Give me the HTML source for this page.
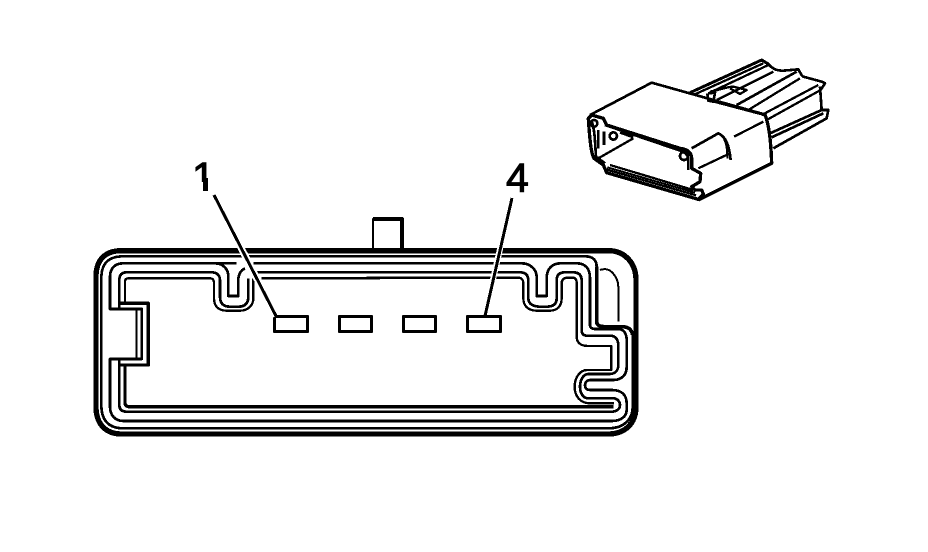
<!DOCTYPE html>
<html>
<head>
<meta charset="utf-8">
<style>
html,body{margin:0;padding:0;background:#fff;width:928px;height:552px;overflow:hidden}
svg{display:block}
text{font-family:"Liberation Sans",sans-serif;font-size:41px;fill:#000;stroke:#000;stroke-width:1}
path,rect,line,circle{fill:none;stroke:#000;stroke-linejoin:round;shape-rendering:crispEdges}
</style>
</head>
<body>
<svg width="928" height="552" viewBox="0 0 928 552" xmlns="http://www.w3.org/2000/svg">
<!-- top tab -->
<path d="M373 250V219H402V250" stroke-width="2"/>
<path d="M373 219H402V250" stroke-width="4"/>

<g transform="translate(80,210) scale(.33333)">
  <!-- outer body left -->
  <path d="M900 122H125C75 122 48 150 48 200V590C48 640 75 672 125 672H900" stroke-width="16"/>
  <path d="M900 139H130C85 139 64 160 64 205V585C64 630 85 655 130 655H900" stroke-width="8"/>
  <!-- channel A -->
  <path d="M470 160H130C105 160 90 175 90 200V297H185V447H90V590C90 615 105 633 130 633H900" stroke-width="8"/>
  <path d="M470 160H405C430 160 445 178 445 200V258H475V210C475 190 485 180 495 175" stroke-width="8"/>
  <path d="M520 160H900" stroke-width="8"/>
  <path d="M170 297V447" stroke-width="6"/>
  <!-- channel B -->
  <path d="M118 297V210C118 195 125 187 140 187H395C412 187 420 197 420 212V260C420 280 430 290 450 290H475C495 290 505 280 505 260V205" stroke-width="8"/>
  <path d="M530 187H900" stroke-width="8"/>
  <path d="M118 447V585C118 598 125 605 140 605H900" stroke-width="8"/>
  <!-- channel C / notch -->
  <path d="M135 280V215C135 208 138 205 145 205H390C398 205 402 210 402 218V265C402 288 415 302 440 302H480C505 302 520 285 520 265V205" stroke-width="7"/>
  <path d="M545 205H900" stroke-width="7"/>
  <path d="M118 280H205V465H118" stroke-width="10"/>
  <path d="M135 465V578C135 586 140 590 148 590H900" stroke-width="10"/>
</g>

<g transform="translate(370,210) scale(.33333)">
  <!-- outer body right -->
  <path d="M-10 122H715C765 122 798 160 798 210V590C798 640 765 672 715 672H0" stroke-width="16"/>
  <path d="M-10 139H645C668 139 680 150 680 170V335C680 345 690 350 705 350H755C775 350 785 358 788 375V590C788 630 760 655 715 655H-10" stroke-width="8"/>
  <path d="M680 170V335C680 345 690 350 705 350H755C775 350 785 358 788 375" stroke-width="11"/>
  <path d="M690 180C700 176 715 176 725 186C740 200 745 215 745 232V335" stroke-width="6"/>
  <!-- channel A -->
  <path d="M-10 160H455C480 160 500 178 500 200V258H530V205C530 178 545 160 572 160H620C648 160 660 178 660 205V345C660 352 665 357 675 357H745C762 357 770 372 770 390V470C770 495 755 510 730 510H662C650 510 645 518 645 525C645 535 650 540 662 540H725C755 540 770 555 770 580V600C770 620 752 633 725 633H-10" stroke-width="8"/>
  <!-- channel B -->
  <path d="M-10 187H450C468 187 475 197 475 212V265C475 282 490 290 510 290H530C550 290 560 282 560 265V210C560 195 568 187 585 187H610C628 187 635 197 635 212V360C635 372 640 377 652 377H720C738 377 745 390 745 408V465C745 482 735 492 718 492H655C640 492 630 510 630 530C630 550 640 565 655 565H730C742 565 750 575 750 585C750 598 738 605 725 605H-10" stroke-width="8"/>
  <!-- channel C -->
  <path d="M-10 203H445C455 203 460 210 460 220V265C460 288 475 302 500 302H540C562 302 575 288 575 265V220C575 208 582 203 595 203H608C616 203 620 208 620 218V380C620 398 632 408 655 408H724V480H652C628 480 614 505 614 530C614 558 630 580 660 580H732" stroke-width="7"/>
  <path d="M-10 590H730" stroke-width="10"/>
</g>

<!-- pins -->
<rect x="274.500" y="316.500" width="33" height="15" stroke-width="3"/>
<rect x="339.500" y="316.500" width="32" height="15" stroke-width="3"/>
<rect x="403.500" y="316.500" width="32" height="15" stroke-width="3"/>
<rect x="467.500" y="316.500" width="33" height="15" stroke-width="3"/>

<!-- leaders -->
<line x1="214" y1="195" x2="276" y2="316" style="stroke:#fff" stroke-width="7"/>
<line x1="512" y1="197" x2="485" y2="314" style="stroke:#fff" stroke-width="6"/>
<line x1="214" y1="195" x2="276" y2="316" stroke-width="3"/>
<line x1="512" y1="198" x2="485" y2="316" stroke-width="3"/>

<text x="192" y="191">1</text>
<rect x="190" y="182" width="26" height="11" style="fill:#fff;stroke:none"/>
<rect x="203" y="178" width="5" height="13" style="fill:#000;stroke:none"/>
<text x="506" y="192">4</text>

<!-- connector -->
<g transform="translate(570,50) scale(.33333)" stroke-width="7">
  <path d="M60 195L245 98L590 195" stroke-width="8"/>
  <path d="M585 195C598 225 603 280 605 340L385 450" stroke-width="10"/>
  <path d="M55 205L65 195L100 205L110 225L330 295C355 298 365 310 365 325V355L392 370L390 395L365 410L375 420H395L400 432L385 448L110 368L100 345L72 325C62 310 58 250 55 205Z" stroke-width="10"/>
  <path d="M65 215C75 240 75 280 78 320L105 340" stroke-width="8"/>
  <path d="M105 225L325 300C345 305 355 315 355 330V360" stroke-width="8"/>
  <path d="M120 345L370 420M108 358L378 436" stroke-width="7"/>
  <path d="M112 352L375 428" stroke-width="6"/>
  <path d="M85 325L190 265" stroke-width="7"/>
  <circle cx="342" cy="318" r="12" stroke-width="8"/>
  <circle cx="130" cy="258" r="11" stroke-width="8"/>
  <circle cx="72" cy="220" r="10" stroke-width="8"/>
  <path d="M85 240V295M102 245V285" stroke-width="8"/>
  <path d="M150 248L190 262" stroke-width="7"/>
  <!-- side ridge -->
  <path d="M365 295L445 250C470 262 478 290 482 330" stroke-width="8"/>
  <path d="M455 255C470 275 472 300 472 325" stroke-width="6"/>
  <path d="M385 355L480 310" stroke-width="7"/>
  <path d="M492 260L580 215" stroke-width="7"/>
  <!-- back ribs -->
  <path d="M360 128L575 30L595 42" stroke-width="9"/>
  <path d="M370 135L580 40" stroke-width="7"/>
  <path d="M595 42C610 60 625 62 640 62L685 58C692 70 695 78 700 80L755 95L765 100L752 120" stroke-width="8"/>
  <path d="M415 130L595 45" stroke-width="7"/>
  <path d="M440 150L610 65" stroke-width="7"/>
  <path d="M500 165L680 65" stroke-width="8"/>
  <path d="M535 180L690 85" stroke-width="7"/>
  <path d="M575 195L745 105" stroke-width="7"/>
  <path d="M590 210L752 120" stroke-width="7"/>
  <path d="M412 130L415 152L430 155L435 128L415 130" stroke-width="8"/>
  <path d="M420 125C450 120 470 110 490 110L530 120L510 132L480 115" stroke-width="7"/>
  <path d="M750 110L755 180H775L770 205L610 295" stroke-width="8"/>
  <path d="M600 250L755 180M605 262L760 190" stroke-width="8"/>
  <path d="M415 150L585 195" stroke-width="8"/>
</g>
</svg>
</body>
</html>
